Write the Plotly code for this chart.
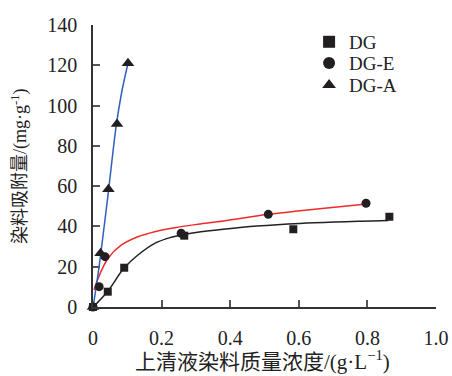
import plotly.graph_objects as go

# --- data ---
dg_x = [0.0, 0.043, 0.091, 0.266, 0.584, 0.864]
dg_y = [0.0, 7.6, 19.5, 35.4, 38.6, 44.8]

dge_x = [0.0, 0.018, 0.035, 0.257, 0.511, 0.796]
dge_y = [0.0, 10.1, 25.0, 36.6, 46.0, 51.5]

dga_x = [0.0, 0.022, 0.045, 0.070, 0.102]
dga_y = [0.0, 26.7, 58.4, 90.9, 121.0]

# fitted curves
fit_dg_x = [0.0, 0.042, 0.090, 0.131, 0.180, 0.228, 0.267, 0.300, 0.380, 0.477, 0.603, 0.861]
fit_dg_y = [0.0, 7.6, 19.2, 25.8, 31.6, 34.6, 36.1, 37.0, 38.6, 40.2, 41.5, 42.9]

fit_dge_x = [0.003, 0.015, 0.044, 0.083, 0.131, 0.180, 0.238, 0.306, 0.380, 0.511, 0.603, 0.798]
fit_dge_y = [8.4, 14.3, 24.2, 30.8, 34.9, 37.4, 39.4, 41.1, 42.7, 46.0, 47.8, 51.1]

fit_dga_x = [0.0, 0.005, 0.022, 0.044, 0.068, 0.083, 0.102]
fit_dga_y = [0.0, 5.1, 25.5, 56.0, 90.4, 106.0, 121.0]

x_ticks = [0, 0.2, 0.4, 0.6, 0.8, 1.0]
x_tick_labels = ["0", "0.2", "0.4", "0.6", "0.8", "1.0"]
y_ticks = [0, 20, 40, 60, 80, 100, 120, 140]

x_title = "上清液染料质量浓度/(g·L<sup>−1</sup>)"
y_title = "染料吸附量/(mg·g<sup>-1</sup>)"

MK = "#231f20"
TXT = "#222222"
FONT = "Liberation Serif, Times New Roman, Noto Sans CJK SC, serif"

fig = go.Figure()

fig.add_trace(go.Scatter(x=fit_dg_x, y=fit_dg_y, mode="lines", line=dict(color="#222222", width=1.5, shape="spline"),
                         showlegend=False, hoverinfo="skip", cliponaxis=False))
fig.add_trace(go.Scatter(x=fit_dge_x, y=fit_dge_y, mode="lines", line=dict(color="#ee2a2a", width=1.5, shape="spline"),
                         showlegend=False, hoverinfo="skip", cliponaxis=False))
fig.add_trace(go.Scatter(x=fit_dga_x, y=fit_dga_y, mode="lines", line=dict(color="#2f5fbf", width=1.5, shape="spline"),
                         showlegend=False, hoverinfo="skip", cliponaxis=False))

fig.add_trace(go.Scatter(x=dg_x, y=dg_y, mode="markers", name="DG", legend="legend",
                         marker=dict(symbol="square", size=8, color=MK), cliponaxis=False))
fig.add_trace(go.Scatter(x=dge_x, y=dge_y, mode="markers", name="DG-E", legend="legend2",
                         marker=dict(symbol="circle", size=9, color=MK), cliponaxis=False))
fig.add_trace(go.Scatter(x=dga_x, y=dga_y, mode="markers", name="DG-A", legend="legend3",
                         marker=dict(symbol="triangle-up", size=11, color=MK), cliponaxis=False))

axis_common = dict(showline=True, linecolor="#333333", linewidth=1.5, ticks="inside", ticklen=7,
                   tickwidth=1.5, tickcolor="#555555", showgrid=False, zeroline=False, automargin=False,
                   tickfont=dict(family=FONT, size=20, color=TXT))

fig.update_xaxes(range=[0, 1.0], tickvals=x_ticks, ticktext=x_tick_labels, ticklabelstandoff=12, **axis_common)
fig.update_yaxes(range=[0, 140], tickvals=y_ticks, ticklabelstandoff=10, **axis_common)

fig.add_annotation(text=x_title, xref="paper", yref="paper", x=0.493, y=-0.19,
                   xanchor="center", yanchor="middle", showarrow=False,
                   font=dict(family=FONT, size=21, color=TXT))
fig.add_annotation(text=y_title, xref="paper", yref="paper", x=-0.213, y=0.50, textangle=-90,
                   xanchor="center", yanchor="middle", showarrow=False,
                   font=dict(family=FONT, size=18, color=TXT))

leg_common = dict(x=0.63, xanchor="left", yanchor="middle", bgcolor="rgba(0,0,0,0)",
                  font=dict(family=FONT, size=19, color=TXT), itemsizing="constant", itemwidth=30)

fig.update_layout(
    width=452, height=376,
    margin=dict(l=93, r=16, t=25, b=69),
    plot_bgcolor="white", paper_bgcolor="white",
    font=dict(family=FONT, size=18, color=TXT),
    legend=dict(y=0.940, **leg_common),
    legend2=dict(y=0.865, **leg_common),
    legend3=dict(y=0.787, **leg_common),
)

fig.write_html("out.html", config={"displayModeBar": False},
               post_script="document.body.style.margin='0';")
